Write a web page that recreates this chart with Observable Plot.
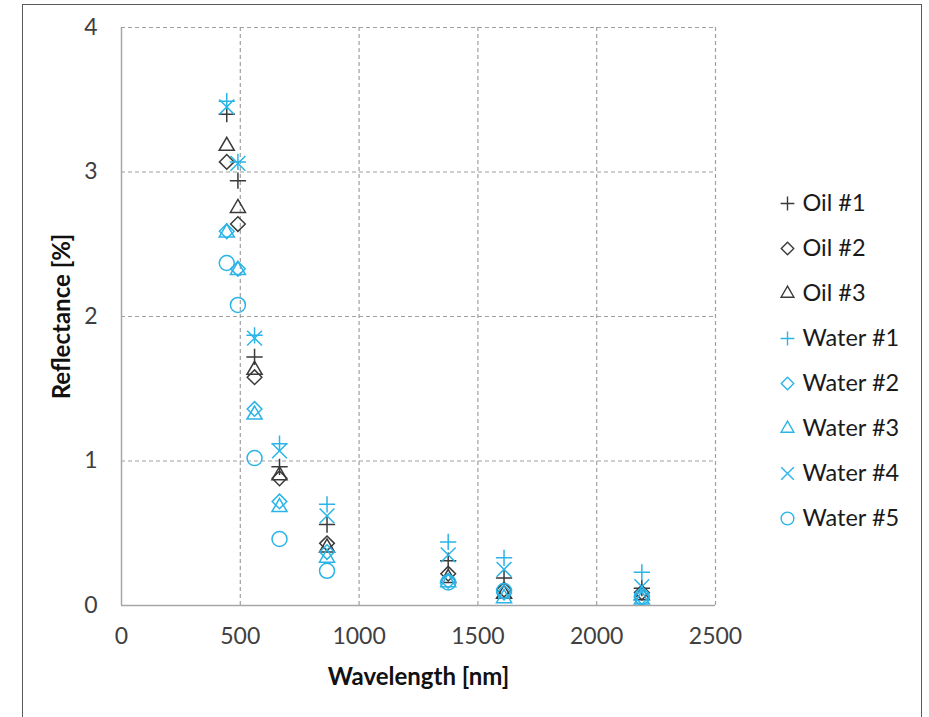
<!DOCTYPE html>
<html><head><meta charset="utf-8">
<script src="https://cdn.jsdelivr.net/npm/d3@7"></script>
<script src="https://cdn.jsdelivr.net/npm/@observablehq/plot@0.6"></script>
<style>
html,body{margin:0;padding:0;background:#fff;}
#wrap{position:relative;width:929px;height:717px;overflow:hidden;font-family:Lato,sans-serif;}
#frame{position:absolute;left:22px;top:4px;width:900px;height:780px;border:1.5px solid #5a5a5a;box-sizing:border-box;}
#chart{position:absolute;left:0;top:0;}
#legend{position:absolute;left:775px;top:178px;}
</style></head>
<body><div id="wrap"><div id="frame"></div><div id="chart"></div><div id="legend"></div></div>
<script>
// ---- data ----
const wavelengths = [443, 490, 560, 665, 865, 1375, 1610, 2190];
const oil1   = [3.40, 2.94, 1.72, 0.96, 0.56, 0.31, 0.19, 0.12];
const oil2   = [3.07, 2.64, 1.58, 0.88, 0.43, 0.22, 0.11, 0.09];
const oil3   = [3.18, 2.75, 1.63, 0.90, 0.40, 0.19, 0.08, 0.07];
const water1 = [3.49, 3.07, 1.87, 1.12, 0.70, 0.44, 0.33, 0.23];
const water2 = [2.59, 2.33, 1.36, 0.72, 0.37, 0.17, 0.09, 0.06];
const water3 = [2.58, 2.32, 1.32, 0.68, 0.33, 0.16, 0.05, 0.04];
const water4 = [3.45, 3.06, 1.85, 1.07, 0.62, 0.35, 0.25, 0.13];
const water5 = [2.37, 2.08, 1.02, 0.46, 0.24, 0.16, 0.10, 0.06];
const seriesNames = ["Oil #1", "Oil #2", "Oil #3", "Water #1", "Water #2", "Water #3", "Water #4", "Water #5"];
const seriesValues = [oil1, oil2, oil3, water1, water2, water3, water4, water5];
const xTicks = [0, 500, 1000, 1500, 2000, 2500];
const yTicks = [0, 1, 2, 3, 4];
const xTitle = "Wavelength [nm]";
const yTitle = "Reflectance [%]";

// ---- styles ----
const BLACK = "#3a3a3a", BLUE = "#2ab4e8";
const seriesColors = [BLACK, BLACK, BLACK, BLUE, BLUE, BLUE, BLUE, BLUE];
const seriesSymbols = ["plus", "diamond2", "triangle2", "plus", "diamond2", "triangle2", "times", "circle"];
const symbolR = {plus: 5.3, diamond2: 6.6, triangle2: 7.2, times: 6.8, circle: 7.5};

const rows = seriesNames.flatMap((name, i) =>
  wavelengths.map((w, j) => ({series: name, wavelength: w, reflectance: seriesValues[i][j]})));

const gridStyle = {stroke: "#a0a0a0", strokeOpacity: 1, strokeWidth: 1.2, strokeDasharray: "4,3"};

const dotMarks = seriesNames.map((name, i) =>
  Plot.dot(rows.filter(d => d.series === name), {
    x: "wavelength", y: "reflectance",
    symbol: () => seriesSymbols[i],
    stroke: seriesColors[i], fill: "none", strokeWidth: 1.5,
    r: symbolR[seriesSymbols[i]]
  }));

const chart = Plot.plot({
  width: 929, height: 717,
  marginLeft: 121, marginRight: 214, marginTop: 27, marginBottom: 112,
  x: {domain: [0, 2500], label: null},
  y: {domain: [0, 4], label: null},
  symbol: {type: "identity"},
  style: {fontFamily: "Lato, sans-serif", background: "transparent", color: "#404040", overflow: "visible"},
  marks: [
    Plot.gridX(xTicks.slice(1), gridStyle),
    Plot.gridY(yTicks.slice(1), gridStyle),
    Plot.ruleX([0], {stroke: "#a6a6a6", strokeWidth: 1.5}),
    Plot.ruleY([0], {stroke: "#a6a6a6", strokeWidth: 1.5}),
    Plot.axisX(xTicks, {tickSize: 0, tickPadding: 22, fontSize: 23, label: null, tickFormat: d => String(d)}),
    Plot.axisY(yTicks, {tickSize: 0, tickPadding: 24, fontSize: 23, label: null, tickFormat: d => String(d)}),
    Plot.text([xTitle], {frameAnchor: "bottom", dy: 79, textAnchor: "middle", fontSize: 24, fontWeight: "bold", fill: "#111"}),
    Plot.text([yTitle], {frameAnchor: "left", dx: -59, rotate: -90, textAnchor: "middle", fontSize: 24, fontWeight: "bold", fill: "#111"}),
    ...dotMarks
  ]
});
document.getElementById("chart").appendChild(chart);

// ---- legend (small Plot) ----
const legendRows = seriesNames.map((name, i) => ({series: name, i}));
const legend = Plot.plot({
  width: 150, height: 370,
  margin: 0,
  x: {domain: [0, 1], range: [12, 150], axis: null},
  y: {type: "point", domain: seriesNames, range: [23, 23 + 7 * 45.6], padding: 0, axis: null},
  symbol: {type: "identity"},
  style: {fontFamily: "Lato, sans-serif", background: "transparent", overflow: "visible"},
  marks: [
    ...legendRows.map(d => Plot.dot([d], {
      x: () => 0, y: "series", symbol: () => seriesSymbols[d.i],
      stroke: seriesColors[d.i], fill: "none", strokeWidth: 1.4,
      r: symbolR[seriesSymbols[d.i]] * 0.85
    })),
    Plot.text(legendRows, {x: () => 0, y: "series", text: "series", dx: 15, textAnchor: "start", fontSize: 23.5, fill: "#1a1a1a"})
  ]
});
document.getElementById("legend").appendChild(legend);
</script>
</body></html>
